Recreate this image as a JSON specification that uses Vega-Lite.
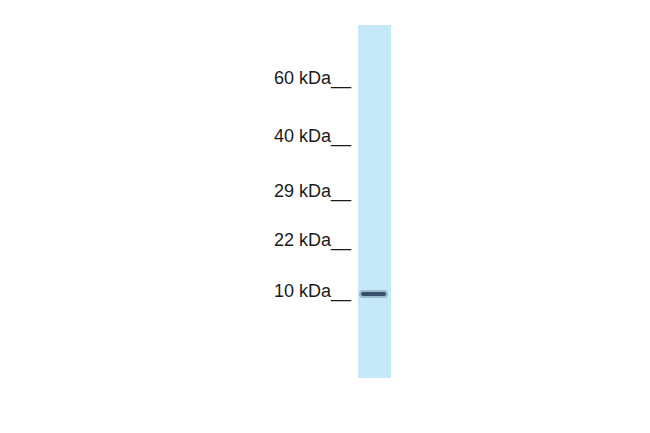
{
  "$schema": "https://vega.github.io/schema/vega-lite/v6.json",
  "description": "Western blot, single sample lane with molecular weight markers",
  "width": 650,
  "height": 433,
  "padding": 0,
  "autosize": {"type": "fit", "contains": "padding"},
  "background": "white",
  "config": {"view": {"stroke": null}},
  "datasets": {
    "lane": [{"lane": "Sample", "left": 358, "right": 391, "top": 25, "bottom": 378}],
    "markers": [
      {"label": "60 kDa__", "kda": 60, "migration": 86},
      {"label": "40 kDa__", "kda": 40, "migration": 144},
      {"label": "29 kDa__", "kda": 29, "migration": 199},
      {"label": "22 kDa__", "kda": 22, "migration": 248},
      {"label": "10 kDa__", "kda": 10, "migration": 299}
    ],
    "bands": [{"lane": "Sample", "kda": 10, "migration": 294, "left": 363, "right": 384}]
  },
  "layer": [
    {
      "data": {"name": "lane"},
      "mark": {"type": "rect", "color": "#c6e9f7"},
      "encoding": {
        "x": {"field": "left", "type": "quantitative", "scale": {"domain": [0, 650], "nice": false, "zero": false}, "axis": null},
        "x2": {"field": "right"},
        "y": {"field": "top", "type": "quantitative", "scale": {"domain": [0, 433], "nice": false, "zero": false, "reverse": true}, "axis": null},
        "y2": {"field": "bottom"}
      }
    },
    {
      "data": {"name": "bands"},
      "mark": {"type": "rule", "color": "#8aa6c0", "strokeWidth": 8, "strokeCap": "round", "opacity": 0.7},
      "encoding": {
        "x": {"field": "left", "type": "quantitative"},
        "x2": {"field": "right"},
        "y": {"field": "migration", "type": "quantitative"}
      }
    },
    {
      "data": {"name": "bands"},
      "mark": {"type": "rule", "color": "#2f4561", "strokeWidth": 4, "strokeCap": "round", "opacity": 0.9},
      "encoding": {
        "x": {"field": "left", "type": "quantitative"},
        "x2": {"field": "right"},
        "y": {"field": "migration", "type": "quantitative"}
      }
    },
    {
      "data": {"name": "markers"},
      "mark": {"type": "text", "align": "right", "baseline": "alphabetic", "dy": -2, "font": "Liberation Sans", "fontSize": 18, "color": "#1a1a1a"},
      "encoding": {
        "x": {"datum": 351, "type": "quantitative"},
        "y": {"field": "migration", "type": "quantitative"},
        "text": {"field": "label"}
      }
    }
  ]
}
